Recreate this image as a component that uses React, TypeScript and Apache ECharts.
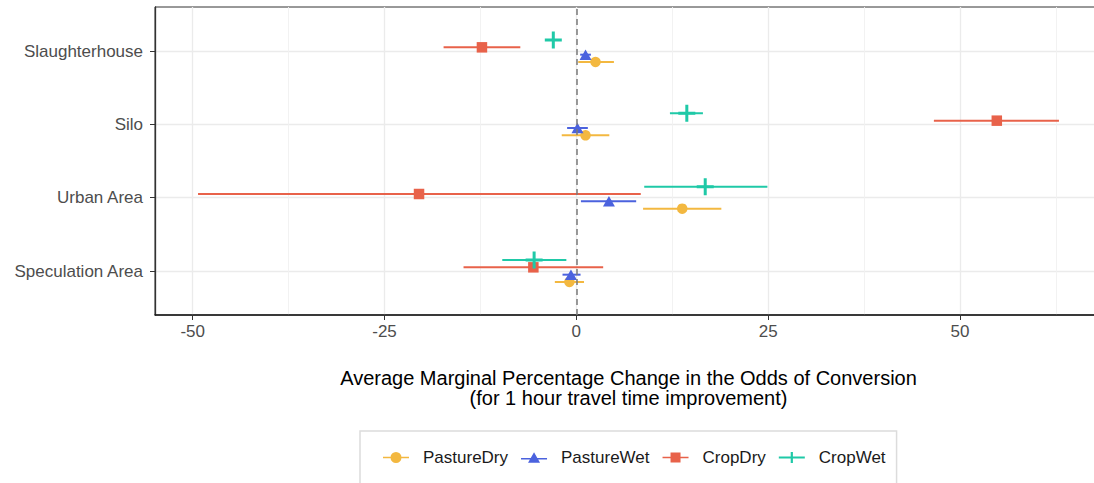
import React, { useEffect, useRef } from "react";
import * as echarts from "echarts";

// ---- data ----
const categories = ["Slaughterhouse", "Silo", "Urban Area", "Speculation Area"];
const groups = ["PastureDry", "PastureWet", "CropDry", "CropWet"];

const pastureDryEst = [2.5, 1.2, 13.8, -0.9];
const pastureDryLo = [0.25, -1.9, 8.7, -2.8];
const pastureDryHi = [4.9, 4.3, 18.9, 1.0];

const pastureWetEst = [1.2, 0.15, 4.25, -0.7];
const pastureWetLo = [0.5, -1.2, 0.6, -1.8];
const pastureWetHi = [1.9, 1.5, 7.8, 0.55];

const cropDryEst = [-12.3, 54.8, -20.5, -5.6];
const cropDryLo = [-17.3, 46.6, -49.3, -14.7];
const cropDryHi = [-7.3, 62.9, 8.4, 3.5];

const cropWetEst = [-3.0, 14.4, 16.8, -5.5];
const cropWetLo = [-3.9, 12.2, 8.85, -9.65];
const cropWetHi = [-2.1, 16.5, 24.9, -1.3];

const xTicks = [-50, -25, 0, 25, 50];
const xMinorTicks = [-37.5, -12.5, 12.5, 37.5, 62.5];

// ---- styles ----
const FONT = "'Liberation Sans', Arial, Helvetica, sans-serif";
const colors = ["#F3B840", "#4B62DE", "#E8624A", "#1FC9A7"];
const dodge = [-0.15, -0.05, 0.05, 0.15];
const symbols = [
  "circle",
  "triangle",
  "rect",
  "path://M7,0H10V7H17V10H10V17H7V10H0V7H7Z",
];
const symbolSizes: any[] = [10.5, [12, 10.5], 10.5, 17];
const legendIcons = [
  "path://M0,4.75H26V6.25H0Z M7.5,5.5A5.5,5.5 0 1 1 18.5,5.5A5.5,5.5 0 1 1 7.5,5.5Z",
  "path://M0,5.75H26V7.25H0Z M13,0L19,10.4L7,10.4Z",
  "path://M0,4.75H26V6.25H0Z M8,0.5H18V10.5H8Z",
  "path://M0,4.4H26V6.6H0Z M11.9,0H14.1V11H11.9Z",
];

const est = [pastureDryEst, pastureWetEst, cropDryEst, cropWetEst];
const lo = [pastureDryLo, pastureWetLo, cropDryLo, cropWetLo];
const hi = [pastureDryHi, pastureWetHi, cropDryHi, cropWetHi];

export default function App() {
  const ref = useRef<HTMLDivElement>(null);

  useEffect(() => {
    if (!ref.current) return;
    const chart = echarts.init(ref.current, undefined, { renderer: "svg" });
    const n = categories.length;
    const catPos = (i: number) => n - i; // top category highest

    const allLo = Math.min(...lo.flat());
    const allHi = Math.max(...hi.flat());
    const pad = (allHi - allLo) * 0.05;
    const xMin = allLo - pad;
    const xMax = allHi + pad;

    const errSeries = groups.map((g, gi) => ({
      name: g + " CI",
      type: "custom",
      xAxisIndex: 0,
      yAxisIndex: 0,
      silent: true,
      data: categories.map((_, ci) => [lo[gi][ci], hi[gi][ci], catPos(ci) + dodge[gi]]),
      encode: { x: [0, 1], y: 2 },
      renderItem: (params: any, api: any) => {
        const y = api.value(2);
        const p1 = api.coord([api.value(0), y]);
        const p2 = api.coord([api.value(1), y]);
        return {
          type: "line",
          shape: { x1: p1[0], y1: p1[1], x2: p2[0], y2: p2[1] },
          style: { stroke: colors[gi], lineWidth: 2 },
        };
      },
      z: 2,
    }));

    const pointSeries = groups.map((g, gi) => ({
      name: g,
      type: "scatter",
      xAxisIndex: 0,
      yAxisIndex: 0,
      symbol: symbols[gi],
      symbolSize: symbolSizes[gi],
      itemStyle: { color: colors[gi], opacity: 1 },
      data: categories.map((_, ci) => [est[gi][ci], catPos(ci) + dodge[gi]]),
      z: 3,
    }));

    const vline = {
      name: "zero",
      type: "line",
      xAxisIndex: 0,
      yAxisIndex: 0,
      data: [],
      silent: true,
      z: 1,
      markLine: {
        silent: true,
        symbol: "none",
        label: { show: false },
        lineStyle: { type: [6, 4], color: "#7a7a7a", width: 1.5 },
        data: [{ xAxis: 0 }],
      },
    };

    chart.setOption({
      animation: false,
      backgroundColor: "#ffffff",
      grid: {
        left: 155,
        top: 7,
        right: 0,
        bottom: 168,
        show: true,
        borderColor: "#333333",
        borderWidth: 1,
        containLabel: false,
      },
      xAxis: [
        {
          type: "value",
          min: xMin,
          max: xMax,
          position: "bottom",
          axisLine: { show: true, onZero: false, lineStyle: { color: "#1a1a1a", width: 1.5 } },
          axisTick: { show: true, length: 5, customValues: xTicks, lineStyle: { color: "#333333" } },
          axisLabel: {
            customValues: xTicks,
            formatter: (v: number) => String(v),
            color: "#4D4D4D",
            fontSize: 17,
            fontFamily: FONT,
            margin: 8,
          },
          splitLine: { show: true, lineStyle: { color: "#EBEBEB", width: 1.3 } },
          name: "Average Marginal Percentage Change in the Odds of Conversion\n(for 1 hour travel time improvement)",
          nameLocation: "middle",
          nameGap: 53,
          nameTextStyle: {
            fontSize: 20,
            lineHeight: 20,
            color: "#000000",
            fontFamily: FONT,
            align: "center",
          },
        },
        {
          type: "value",
          min: xMin,
          max: xMax,
          position: "top",
          axisLine: { show: false },
          axisTick: { show: false, customValues: xMinorTicks },
          axisLabel: { show: false, customValues: xMinorTicks },
          splitLine: { show: true, lineStyle: { color: "#F0F0F0", width: 0.9 } },
        },
      ],
      yAxis: {
        type: "value",
        min: 0.4,
        max: 4.6,
        axisLine: { show: true, onZero: false, lineStyle: { color: "#333333", width: 1.3 } },
        axisTick: { show: true, length: 5, customValues: [1, 2, 3, 4], lineStyle: { color: "#333333" } },
        axisLabel: {
          customValues: [1, 2, 3, 4],
          formatter: (v: number) => categories[n - Math.round(v)],
          color: "#4D4D4D",
          fontSize: 17,
          fontFamily: FONT,
          margin: 12,
        },
        splitLine: { show: true, lineStyle: { color: "#EBEBEB", width: 1.3 } },
      },
      legend: {
        left: 360,
        top: 431,
        orient: "horizontal",
        data: groups.map((g, gi) => ({ name: g, icon: legendIcons[gi] })),
        itemWidth: 26,
        itemHeight: 11,
        itemGap: 13,
        padding: [18, 11, 18, 23],
        borderColor: "#DCDCDC",
        borderWidth: 1.5,
        borderRadius: 0,
        backgroundColor: "#ffffff",
        textStyle: { fontSize: 17, color: "#1a1a1a", fontFamily: FONT, padding: [0, 0, 0, 9] },
        selectedMode: false,
      },
      series: [vline, ...errSeries, ...pointSeries],
    });

    return () => chart.dispose();
  }, []);

  return (
    <div
      style={{
        position: "absolute",
        left: 0,
        top: 0,
        width: 1094,
        height: 483,
        overflow: "hidden",
        background: "#fff",
      }}
    >
      <div ref={ref} style={{ width: 1102, height: 483 }} />
    </div>
  );
}
